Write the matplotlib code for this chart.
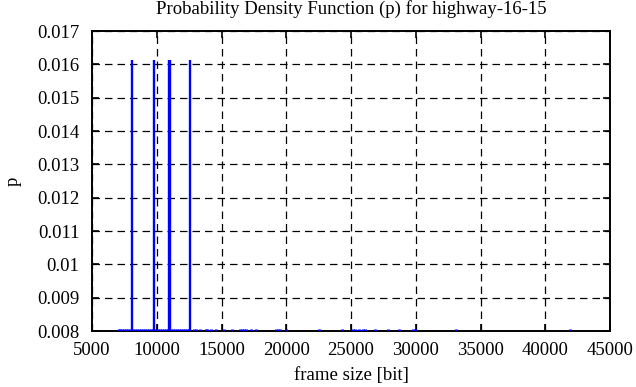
import numpy as np
import matplotlib
matplotlib.use("Agg")
import matplotlib.pyplot as plt

# frame sizes of the tall peaks and their probability
peak_sizes = [8089, 9788, 10955, 10985, 12568]
peak_p = [0.01612, 0.01612, 0.01612, 0.01612, 0.01612]

# frame sizes whose probability just reaches over the lower axis limit
low_sizes = [7085, 7162, 7317, 7471, 7625, 7780, 7934, 8166, 8320, 8475, 8629,
             8784, 8938, 9093, 9247, 9402, 9556, 9710, 9942, 10097, 10251,
             10405, 10560, 10714, 10869, 11100, 11255, 11409, 11564, 11718,
             11873, 12027, 12181, 12336, 12490, 12876, 13031, 13340, 13803,
             13880, 14189, 14575, 15193, 15811, 16429, 16583, 16737, 16892,
             17278, 17664, 19208, 19363, 19517, 19981, 22529, 24305, 25154,
             25309, 25618, 25927, 26081, 26853, 27857, 28707, 29788, 29942,
             33108, 41911]
low_p = [0.00806] * len(low_sizes)

xticks = [5000, 10000, 15000, 20000, 25000, 30000, 35000, 40000, 45000]
yticks = [0.008, 0.009, 0.01, 0.011, 0.012, 0.013, 0.014, 0.015, 0.016, 0.017]
ytick_labels = ["0.008", "0.009", "0.01", "0.011", "0.012", "0.013", "0.014",
                "0.015", "0.016", "0.017"]

plt.rcParams["font.family"] = ["Liberation Serif", "DejaVu Serif"]
plt.rcParams["font.size"] = 13.5

fig = plt.figure(figsize=(6.36, 3.87), dpi=100)
ax = fig.add_axes([92 / 636, 1 - 331 / 387, 518 / 636, 300 / 387])

ax.vlines(peak_sizes, 0.008, peak_p, color="#0000ff", lw=1.7, zorder=3)
ax.vlines(low_sizes, 0.008, low_p, color="#0000ff", lw=2.2, zorder=3)

ax.set_xlim(5000, 45000)
ax.set_ylim(0.008, 0.017)
ax.set_xticks(xticks)
ax.set_xticklabels([str(t) for t in xticks])
ax.set_yticks(yticks)
ax.set_yticklabels(ytick_labels)

ax.grid(True, color="black", linestyle=(0, (6, 4)), linewidth=0.9)
ax.tick_params(direction="in", length=5, width=1.2, top=True, right=True,
               colors="black")
ax.tick_params(axis="y", pad=9)
ax.tick_params(axis="x", pad=8)
for s in ax.spines.values():
    s.set_linewidth(1.4)

ax.set_title("Probability Density Function (p) for highway-16-15", fontsize=13.5, pad=12)
ax.set_xlabel("frame size [bit]", labelpad=6)
ax.set_ylabel("p", labelpad=11)

fig.savefig("out.png", dpi=100)
